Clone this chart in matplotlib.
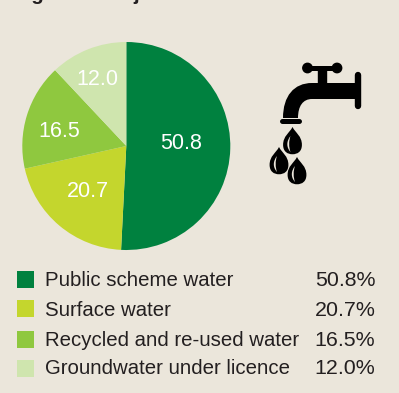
import numpy as np
import matplotlib
matplotlib.use("Agg")
import matplotlib.pyplot as plt
from matplotlib.patches import PathPatch, Rectangle, Circle
from matplotlib.path import Path

categories = ["Public scheme water", "Surface water", "Recycled and re-used water", "Groundwater under licence"]
shares = [50.8, 20.7, 16.5, 12.0]
slice_labels = ["50.8", "20.7", "16.5", "12.0"]
legend_values = ["50.8%", "20.7%", "16.5%", "12.0%"]
colours = ["#00813f", "#c4d62d", "#8fc83f", "#cfe5ae"]

BG = "#ebe6db"
INK = "#231f20"
W, H = 399, 393

plt.rcParams["font.family"] = ["Liberation Sans", "DejaVu Sans"]

fig = plt.figure(figsize=(W / 100, H / 100), dpi=100, facecolor=BG)

# overlay in pixel coordinates, y going down like the picture
over = fig.add_axes([0, 0, 1, 1])
over.set_xlim(0, W)
over.set_ylim(H, 0)
over.axis("off")

# pie: centre and radius in px
cx, cy, r = 126.3, 146, 104
pie_ax = fig.add_axes([(cx - r) / W, 1 - (cy + r) / H, 2 * r / W, 2 * r / H])
wedges, _ = pie_ax.pie(shares, colors=colours, startangle=90, counterclock=False, radius=1.0)
pie_ax.set_xlim(-1, 1)
pie_ax.set_ylim(-1, 1)
label_xy = [(0.525, 0.02), (-0.371, -0.433), (-0.644, 0.144), (-0.282, 0.641)]
for txt, (lx, ly) in zip(slice_labels, label_xy):
    pie_ax.text(lx, ly, txt, color="white", fontsize=15.5, ha="center", va="center")

# title is cut off by the top edge of the picture
over.text(13, 0.5, "Figure 4: Major sources of water", color=INK, fontsize=14.8,
          fontweight="bold", va="baseline")

# legend
box_top = [271, 300, 331, 360]
text_y = [281, 310, 340, 369]
for top, ty, name, val, col in zip(box_top, text_y, categories, legend_values, colours):
    over.add_patch(Rectangle((17, top), 17, 17, facecolor=col, edgecolor="none"))
    over.text(45, ty, name, color=INK, fontsize=14.7, va="center", ha="left")
    over.text(375.5, ty, val, color=INK, fontsize=15.4, va="center", ha="right")

# tap icon
def tap_part(verts, codes=None):
    over.add_patch(PathPatch(Path(verts, codes), facecolor="black", edgecolor="none"))

over.plot([307, 338], [68, 68], color="black", lw=3.6, solid_capstyle="round")
over.add_patch(Circle((307.5, 68), 4.7, color="black"))
over.add_patch(Circle((337, 68), 4.7, color="black"))
over.add_patch(Rectangle((318, 68), 8, 18, color="black"))
over.plot([357.5, 357.5], [75, 106], color="black", lw=4.6, solid_capstyle="round")

M, L, C, Z = Path.MOVETO, Path.LINETO, Path.CURVE4, Path.CLOSEPOLY
tap_part([(356, 83), (312, 83), (294, 83), (283, 96), (283, 118), (298, 118),
          (298, 106), (303, 99), (312, 99), (356, 99), (356, 83)],
         [M, L, C, C, C, L, C, C, C, L, Z])
over.plot([282, 299], [120.5, 120.5], color="black", lw=3.6, solid_capstyle="round")

# drops: tip (x, y), bulb radius, and a light sliver on the left of each bulb
def drop(x, y, rad=9.4):
    k = 1.9 * rad
    verts = [(x, y), (x + 3, y + 6), (x + rad, y + k * 0.5), (x + rad, y + k),
             (x + rad, y + k + rad * 0.7), (x + rad * 0.55, y + k + rad), (x, y + k + rad),
             (x - rad * 0.55, y + k + rad), (x - rad, y + k + rad * 0.7), (x - rad, y + k),
             (x - rad, y + k * 0.5), (x - 3, y + 6), (x, y), (x, y)]
    tap_part(verts, [M, C, C, C, C, C, C, C, C, C, C, C, C, Z])
    hl = [(x - 2, y + 9), (x - 6, y + 14), (x - 6.5, y + 20), (x - 2, y + 25),
          (x - 3.8, y + 20), (x - 3.8, y + 14), (x - 2, y + 9), (x - 2, y + 9)]
    over.add_patch(PathPatch(Path(hl, [M, C, C, C, C, C, C, Z]), facecolor=BG, edgecolor="none"))

drop(292.5, 127)
drop(279, 147)
drop(297, 157)

fig.savefig("out.png", dpi=100, facecolor=BG)
